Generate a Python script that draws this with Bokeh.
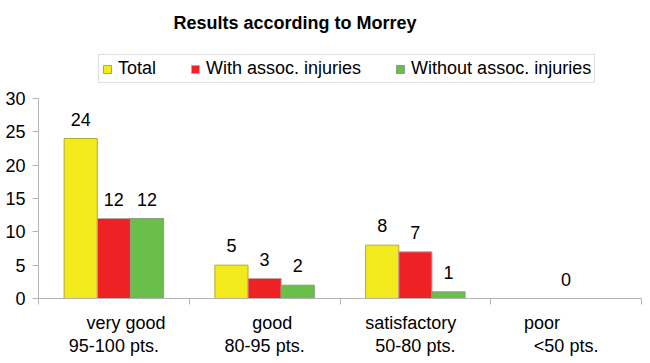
import numpy as np
from bokeh.plotting import figure
from bokeh.core.properties import value
from bokeh.models import (ColumnDataSource, Range1d, FixedTicker, LabelSet,
                          Legend, LegendItem, LinearAxis, CustomJSTickFormatter)
from bokeh.transform import dodge
from bokeh.embed import file_html
from bokeh.resources import INLINE

# ---- data ----
categories = ["very good", "good", "satisfactory", "poor"]
points = ["95-100 pts.", "80-95 pts.", "50-80 pts.", "<50 pts."]
total = [24, 5, 8, 0]
with_assoc = [12, 3, 7, 0]
without_assoc = [12, 2, 1, 0]
series_names = ["Total", "With assoc. injuries", "Without assoc. injuries"]
y_ticks = [0, 5, 10, 15, 20, 25, 30]

# ---- styles ----
colors = ["#f2ea1c", "#ee2224", "#6abf4a"]
borders = ["#b5ad2a", "#c8a0a0", "#8aa07a"]
offsets = [-0.22, 0.0, 0.22]
bar_w = 0.22
first_line_shift = [0.08, 0.05, -0.03, -0.16]
FONT = "Liberation Sans"
axis_color = "#b4b4b4"
y_axis_max = 30
y_view_max = 38.7   # headroom above the axis for the legend

xc = np.arange(len(categories)) + 0.5
src = ColumnDataSource(dict(
    xc=xc, total=total, with_assoc=with_assoc, without_assoc=without_assoc,
))

p = figure(width=650, height=363, output_backend="svg", toolbar_location=None,
           x_range=Range1d(0, len(categories)), y_range=Range1d(0, y_view_max),
           min_border_left=38, min_border_right=9, min_border_top=40,
           min_border_bottom=65, title="Results according to Morrey")
p.outline_line_color = None
p.grid.grid_line_color = None
p.background_fill_color = "white"
p.border_fill_color = "white"

p.title.text_font = FONT
p.title.text_font_size = "18px"
p.title.text_font_style = "bold"
p.title.text_color = "black"
p.title.align = "left"
p.title.offset = 135
p.title.standoff = 16

fields = ["total", "with_assoc", "without_assoc"]
renderers = []
for f, c, b, off in zip(fields, colors, borders, offsets):
    r = p.vbar(x=dodge("xc", off), top=f, width=bar_w, bottom=0, source=src,
               fill_color=c, line_color=b, line_width=1)
    renderers.append(r)

# value labels
vals = [total, with_assoc, without_assoc]
for i, off in enumerate(offsets):
    keep = [j for j, v in enumerate(vals[i]) if v > 0 or i == 1]
    s = ColumnDataSource(dict(x=[xc[j] + off for j in keep],
                              y=[vals[i][j] for j in keep],
                              t=[str(vals[i][j]) for j in keep]))
    p.add_layout(LabelSet(x="x", y="y", text="t", source=s, text_align="center",
                          text_baseline="alphabetic", y_offset=13,
                          text_font=value(FONT), text_font_size="18px",
                          text_color="black"))

# main x axis: tick marks at category boundaries
p.xaxis.ticker = FixedTicker(ticks=list(range(len(categories) + 1)))
p.xaxis.formatter = CustomJSTickFormatter(code="return '';")
p.xaxis.major_label_text_font_size = "2px"
p.xaxis.major_label_standoff = 0
p.xaxis.axis_line_color = axis_color
p.xaxis.major_tick_line_color = axis_color
p.xaxis.major_tick_out = 6
p.xaxis.major_tick_in = 0
p.xaxis.minor_tick_line_color = None

# category label axes (two lines)
def label_axis(ticks, labels, standoff):
    ax = LinearAxis(ticker=FixedTicker(ticks=list(ticks)),
                    formatter=CustomJSTickFormatter(args=dict(labels=labels),
                                                    code="return labels[index];"))
    ax.axis_line_color = None
    ax.major_tick_line_color = None
    ax.minor_tick_line_color = None
    ax.major_tick_out = 0
    ax.major_tick_in = 0
    ax.major_label_standoff = standoff
    ax.major_label_text_font = FONT
    ax.major_label_text_font_size = "18px"
    ax.major_label_text_color = "black"
    return ax

p.add_layout(label_axis(xc + np.array(first_line_shift), categories, 8), "below")
p.add_layout(label_axis(xc, points, 0), "below")

p.yaxis.ticker = FixedTicker(ticks=y_ticks)
p.yaxis.bounds = (0, y_axis_max)
p.yaxis.axis_line_color = axis_color
p.yaxis.major_tick_line_color = axis_color
p.yaxis.major_tick_out = 6
p.yaxis.major_tick_in = 0
p.yaxis.minor_tick_line_color = None
p.yaxis.major_label_standoff = 7
p.yaxis.major_label_text_font = FONT
p.yaxis.major_label_text_font_size = "18px"
p.yaxis.major_label_text_color = "black"

# legend (inside the frame, above the 30 line)
legend = Legend(items=[LegendItem(label=n, renderers=[r]) for n, r in zip(series_names, renderers)],
                orientation="horizontal", location=(60, 215),
                glyph_width=10, glyph_height=10, label_standoff=6, spacing=34,
                padding=3, margin=0, label_text_font=FONT,
                label_text_font_size="18px", label_height=18,
                label_text_color="black", border_line_color="#c0c0c0",
                background_fill_color="white", background_fill_alpha=1)
p.add_layout(legend, "center")

open("out.html", "w").write(file_html(p, INLINE))
